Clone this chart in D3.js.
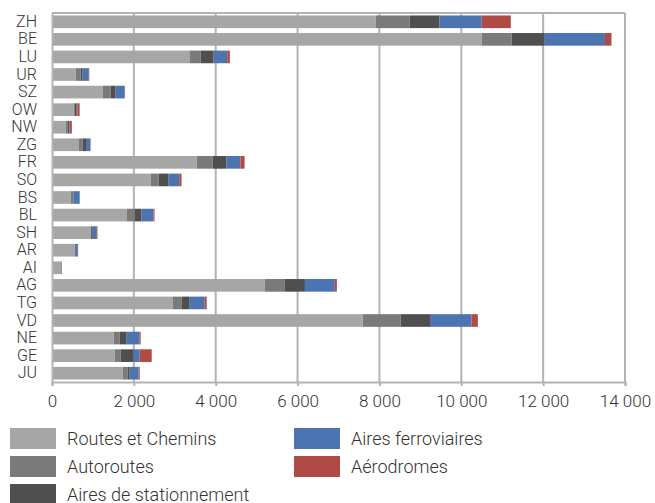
<!DOCTYPE html>
<html>
<head>
<meta charset="utf-8">
<script src="https://cdn.jsdelivr.net/npm/d3@7"></script>
<style>
  body { margin: 0; background: #fff; }
  text { font-family: Roboto, sans-serif; font-weight: 300; fill: #333; }
</style>
</head>
<body>
<svg id="chart" width="655" height="503"></svg>
<script>
const cantons = ['ZH', 'BE', 'LU', 'UR', 'SZ', 'OW', 'NW', 'ZG', 'FR', 'SO',
    'BS', 'BL', 'SH', 'AR', 'AI', 'AG', 'TG', 'VD', 'NE', 'GE', 'JU']

const routes        = [7910, 10500, 3360, 580, 1240, 530, 335, 650, 3535, 2410, 457, 1825, 946, 555, 212, 5200, 2950, 7590, 1507, 1530, 1727]
const autoroutes    = [830, 730, 270, 120, 195, 25, 50, 100, 390, 195, 40, 195, 10, 5, 5, 490, 220, 930, 147, 148, 122]
const stationnement = [730, 810, 320, 50, 120, 50, 40, 100, 340, 245, 25, 170, 40, 20, 5, 490, 195, 735, 171, 318, 49]
const ferroviaires  = [1030, 1470, 330, 150, 220, 15, 5, 90, 340, 260, 155, 290, 100, 50, 15, 730, 365, 995, 318, 147, 220]
const aerodromes    = [710, 160, 65, 10, 10, 55, 55, 5, 100, 55, 0, 25, 15, 8, 5, 50, 50, 155, 24, 293, 25]

const seriesNames = ['Routes et Chemins', 'Autoroutes', 'Aires de stationnement', 'Aires ferroviaires', 'Aérodromes']
const seriesColors = ['#a6a6a6', '#7a7a7a', '#4f4f4f', '#4c74b1', '#b04a45']
const xTicks = [0, 2000, 4000, 6000, 8000, 10000, 12000, 14000]

const rows = cantons.map((c, i) => ({
    canton: c,
    'Routes et Chemins': routes[i],
    'Autoroutes': autoroutes[i],
    'Aires de stationnement': stationnement[i],
    'Aires ferroviaires': ferroviaires[i],
    'Aérodromes': aerodromes[i],
}))

const margin = {top: 13, right: 30, bottom: 121, left: 52}
const width = 655, height = 503
const svg = d3.select('#chart')

const x = d3.scaleLinear()
    .domain([0, 14000])
    .range([margin.left, width - margin.right])

const y = d3.scaleBand()
    .domain(cantons)
    .range([margin.top, height - margin.bottom])
    .paddingInner(0.28)
    .paddingOuter(0.14)

const stack = d3.stack().keys(seriesNames)(rows)
const fmt = v => d3.format(',')(v).replace(/,/g, ' ')

// gridlines
svg.append('g')
        .attr('stroke', '#b3b3b3')
        .attr('stroke-width', 2)
    .selectAll('line')
    .data(xTicks.slice(1))
    .join('line')
        .attr('x1', d => x(d))
        .attr('x2', d => x(d))
        .attr('y1', margin.top)
        .attr('y2', height - margin.bottom)

// top border
svg.append('line')
    .attr('stroke', '#b3b3b3')
    .attr('stroke-width', 2)
    .attr('x1', margin.left)
    .attr('x2', width - margin.right)
    .attr('y1', margin.top)
    .attr('y2', margin.top)

// bars
svg.append('g')
    .selectAll('g')
    .data(stack)
    .join('g')
        .attr('fill', (d, i) => seriesColors[i])
    .selectAll('rect')
    .data(d => d)
    .join('rect')
        .attr('x', d => x(d[0]))
        .attr('y', d => y(d.data.canton))
        .attr('width', d => x(d[1]) - x(d[0]))
        .attr('height', y.bandwidth())

// x axis
const xAxis = svg.append('g')
    .attr('transform', `translate(0,${height - margin.bottom})`)
    .call(d3.axisBottom(x).tickValues(xTicks).tickFormat(fmt).tickSize(4).tickPadding(9))
xAxis.select('.domain').attr('stroke', '#b3b3b3').attr('stroke-width', 2)
xAxis.selectAll('.tick line').attr('stroke', '#b3b3b3').attr('stroke-width', 2)
xAxis.selectAll('text')
    .attr('font-size', 17)
    .attr('font-family', 'Roboto, sans-serif')
    .attr('fill', '#333')

// y axis
const yAxis = svg.append('g')
    .attr('transform', `translate(${margin.left},0)`)
    .call(d3.axisLeft(y).tickSize(0).tickPadding(15))
yAxis.select('.domain').attr('stroke', '#b3b3b3').attr('stroke-width', 2)
yAxis.selectAll('text')
    .attr('font-size', 16)
    .attr('font-family', 'Roboto, sans-serif')
    .attr('fill', '#333')

// legend: two columns, three rows
const legend = svg.append('g')
    .selectAll('g')
    .data(seriesNames)
    .join('g')
        .attr('transform', (d, i) => {
            const col = i < 3 ? 0 : 1
            const row = i < 3 ? i : i - 3
            return `translate(${col === 0 ? 10 : 294},${428 + row * 28})`
        })

legend.append('rect')
    .attr('width', 46)
    .attr('height', 21)
    .attr('fill', (d, i) => seriesColors[i])

legend.append('text')
    .attr('x', 57)
    .attr('y', 10.5)
    .attr('dy', '0.35em')
    .attr('font-size', 18)
    .text(d => d)
</script>
</body>
</html>
